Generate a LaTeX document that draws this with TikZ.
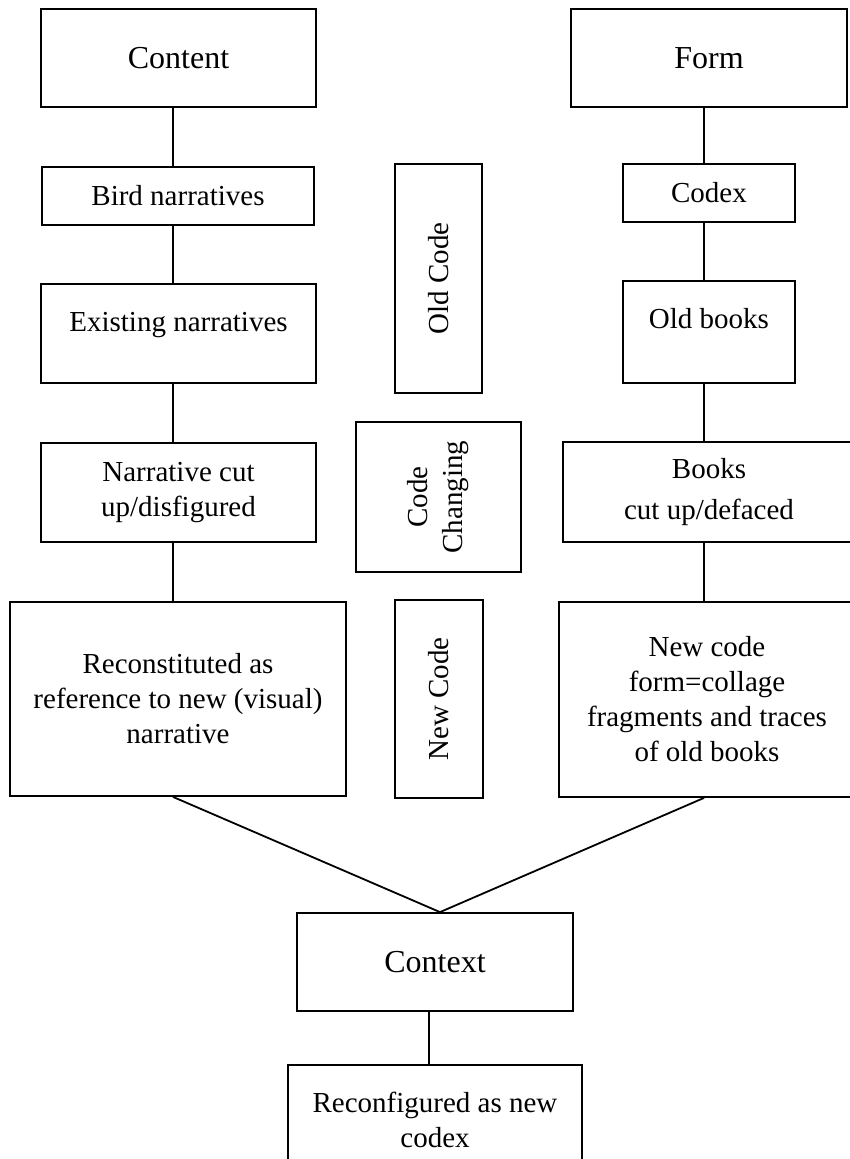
\documentclass[tikz,border=0pt]{standalone}
\usepackage{fontspec}
\setmainfont{Liberation Serif}
\begin{document}
\begin{tikzpicture}[x=1pt,y=-1pt,line width=1.8pt,
  box/.style={draw,align=center,inner sep=2pt,font=\fontsize{29}{35}\selectfont},
  bigbox/.style={box,font=\fontsize{32}{38}\selectfont},
  codebox/.style={box,rotate=90}]
  \def\link(#1)(#2)[#3]{%
    \draw (#1.south -| #3) -- (#2.north -| #3);
  }
  \useasboundingbox (0,0) rectangle (849,1159);
  \coordinate (lcol) at (173,0);
  \coordinate (rcol) at (704,0);

  % content side
  \node[bigbox, minimum width=275, minimum height=98] (content) at (178.5,58) {Content};
  \node[box, minimum width=272, minimum height=58] (bird) at (178,196) {Bird narratives};
  \node[box, minimum width=275, minimum height=99, text height=20pt, text depth=25pt] (existing) at (178.5,333.5) {Existing narratives};
  \node[box, minimum width=275, minimum height=99] (narrcut) at (178.5,492.5) {Narrative cut\\up/disfigured};
  \node[box, minimum width=336, minimum height=194] (recon) at (178,699) {Reconstituted as\\reference to new (visual)\\narrative};

  % form side
  \node[bigbox, minimum width=276, minimum height=98] (form) at (709,58) {Form};
  \node[box, minimum width=172, minimum height=58] (codex) at (709,193) {Codex};
  \node[box, minimum width=172, minimum height=102, text height=20pt, text depth=28pt] (oldbooks) at (709,332) {Old books};
  \node[box, minimum width=292, minimum height=100] (bookscut) at (709,492) {Books\\[6pt]cut up/defaced};
  \node[box, minimum width=296, minimum height=195] (newform) at (707,699.5) {New code\\form=collage\\fragments and traces\\of old books};

  % code column
  \node[codebox, minimum width=229, minimum height=87] (oldcode) at (438.5,278.5) {Old Code};
  \node[codebox, minimum width=150, minimum height=165] (changing) at (438.5,497) {Code\\Changing};
  \node[codebox, minimum width=198, minimum height=88] (newcode) at (439,699) {New Code};

  % bottom
  \node[bigbox, minimum width=276, minimum height=98] (context) at (435,962) {Context};
  \node[box, minimum width=294, minimum height=110] (reconf) at (435,1120) {Reconfigured as new\\codex};

  \link(content)(bird)[lcol]
  \link(bird)(existing)[lcol]
  \link(existing)(narrcut)[lcol]
  \link(narrcut)(recon)[lcol]
  \link(form)(codex)[rcol]
  \link(codex)(oldbooks)[rcol]
  \link(oldbooks)(bookscut)[rcol]
  \link(bookscut)(newform)[rcol]
  \draw (recon.south -| lcol) -- ([xshift=5pt]context.north) -- (newform.south -| rcol);
  \draw ([xshift=-6pt]context.south) -- ([xshift=-6pt]reconf.north);
\end{tikzpicture}
\end{document}
